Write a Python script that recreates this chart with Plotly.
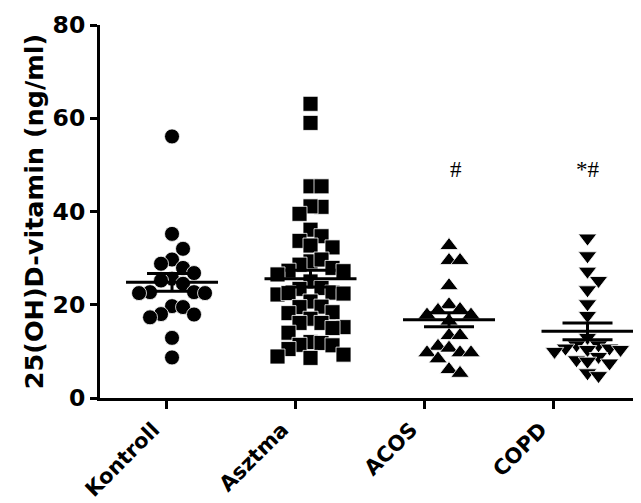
import plotly.graph_objects as go

# ---------------- data ----------------
categories = ["Kontroll", "Asztma", "ACOS", "COPD"]

kontroll = [56.1, 35.2, 32.0, 29.7, 28.8, 27.9, 26.8, 25.6, 25.2, 24.5, 22.7,
            22.7, 22.5, 22.5, 19.7, 19.5, 18.0, 17.9, 17.3, 12.9, 8.7]
asztma = [63.1, 59.0, 45.4, 45.4, 41.0, 41.1, 39.5, 36.1, 34.7, 33.7,
          32.3, 32.7, 29.3, 29.7, 28.6, 27.9, 27.3, 27.2, 26.5, 25.0,
          23.6, 23.4, 22.2, 22.6, 22.5, 22.4, 20.7, 19.5, 19.6, 18.2,
          18.4, 17.0, 16.1, 16.1, 15.2, 15.0, 14.0, 12.0, 11.8, 11.4,
          11.3, 10.5, 9.3, 8.9, 8.6]
acos = [32.7, 29.5, 29.5, 24.1, 20.0, 19.0, 18.8, 17.8, 17.8, 16.5,
        13.4, 13.4, 11.1, 10.7, 9.7, 9.7, 9.7, 8.4, 6.1, 5.3]
copd = [34.3, 30.5, 27.2, 25.2, 23.2, 20.2, 17.7, 13.0, 11.4, 11.4,
        10.7, 10.7, 10.4, 10.4, 10.0, 8.9, 8.2, 7.9, 7.5, 5.4, 4.8]

means = [24.8, 25.6, 16.8, 14.3]
sems = [1.9, 1.8, 1.5, 1.8]
marks = ["", "", "#", "*#"]
mark_level = 49.1
y_ticks = [0, 20, 40, 60, 80]

groups = [kontroll, asztma, acos, copd]
symbols = ["circle", "square", "triangle-up", "triangle-down"]

# ---------------- layout constants ----------------
W, H = 641, 503
ML, MR, MT, MB = 92, 0, 17, 113
Y_RANGE = [0, 80]
X_RANGE = [-0.52, 3.444]
TICK_POS = [-0.041, 0.890, 1.822, 2.758]   # label ticks (slightly left of the columns)
PX_PER_Y = (H - MT - MB) / (Y_RANGE[1] - Y_RANGE[0])
PX_PER_X = (W - ML - MR) / (X_RANGE[1] - X_RANGE[0])
COL_STEP_PX = 11.0
SAME_COL_PX = {"circle": 15.0, "square": 15.0, "triangle-up": 11.5, "triangle-down": 11.0}


def swarm(vals, min_dy):
    """simple column beeswarm: returns horizontal offsets (axis units)"""
    order = sorted(range(len(vals)), key=lambda i: -vals[i])
    placed = []
    cols = [0] * len(vals)
    cand = [0]
    for k in range(1, 12):
        cand += [k, -k]
    for i in order:
        y = vals[i] * PX_PER_Y
        for c in cand:
            if all(not (pc == c and abs(y - py) < min_dy) for pc, py in placed):
                break
        cols[i] = c
        placed.append((c, y))
    return [c * COL_STEP_PX / PX_PER_X for c in cols]


fig = go.Figure()

for gi, (vals, sym) in enumerate(zip(groups, symbols)):
    offs = swarm(vals, SAME_COL_PX[sym])
    fig.add_trace(go.Scatter(
        x=[gi + o for o in offs], y=vals, mode="markers",
        marker=dict(symbol=sym, size=15 if sym in ("circle", "square") else 16,
                    color="black", line=dict(color="white", width=0.8)),
        showlegend=False, hoverinfo="skip"))

MEAN_HALF = 46 / PX_PER_X
SEM_HALF = 25 / PX_PER_X
for gi, (m, s) in enumerate(zip(means, sems)):
    fig.add_trace(go.Scatter(x=[gi - MEAN_HALF, gi + MEAN_HALF], y=[m, m], mode="lines",
                             line=dict(color="black", width=3), showlegend=False, hoverinfo="skip"))
    for yy in (m - s, m + s):
        fig.add_trace(go.Scatter(x=[gi - SEM_HALF, gi + SEM_HALF], y=[yy, yy], mode="lines",
                                 line=dict(color="black", width=3), showlegend=False, hoverinfo="skip"))
    fig.add_trace(go.Scatter(x=[gi, gi], y=[m - s, m + s], mode="lines",
                             line=dict(color="black", width=3), showlegend=False, hoverinfo="skip"))

for gi, t in enumerate(marks):
    if t:
        fig.add_annotation(x=gi, y=mark_level, text=t, showarrow=False,
                           xshift=7 if t == "#" else 0,
                           font=dict(family="Liberation Serif", size=23, color="black"))

AX_FONT = dict(family="DejaVu Sans", color="black", weight="bold")
fig.update_layout(
    width=W, height=H, margin=dict(l=ML, r=MR, t=MT, b=MB),
    paper_bgcolor="white", plot_bgcolor="white",
    xaxis=dict(range=X_RANGE, tickmode="array", tickvals=TICK_POS, ticktext=categories,
               tickangle=-45, ticks="outside", ticklen=8, tickwidth=3, tickcolor="black",
               showline=True, linewidth=3, linecolor="black", showgrid=False, zeroline=False,
               ticklabelshift=-13,
               tickfont=dict(size=21, **AX_FONT)),
    yaxis=dict(range=Y_RANGE, tickmode="array", tickvals=y_ticks,
               ticks="outside", ticklen=7, tickwidth=3, tickcolor="black",
               showline=True, linewidth=3, linecolor="black", showgrid=False, zeroline=False,
               tickfont=dict(size=23.5, **AX_FONT),
               title=dict(text="25(OH)D-vitamin (ng/ml)", font=dict(size=25.5, **AX_FONT), standoff=2)),
)

fig.write_html("out.html")
